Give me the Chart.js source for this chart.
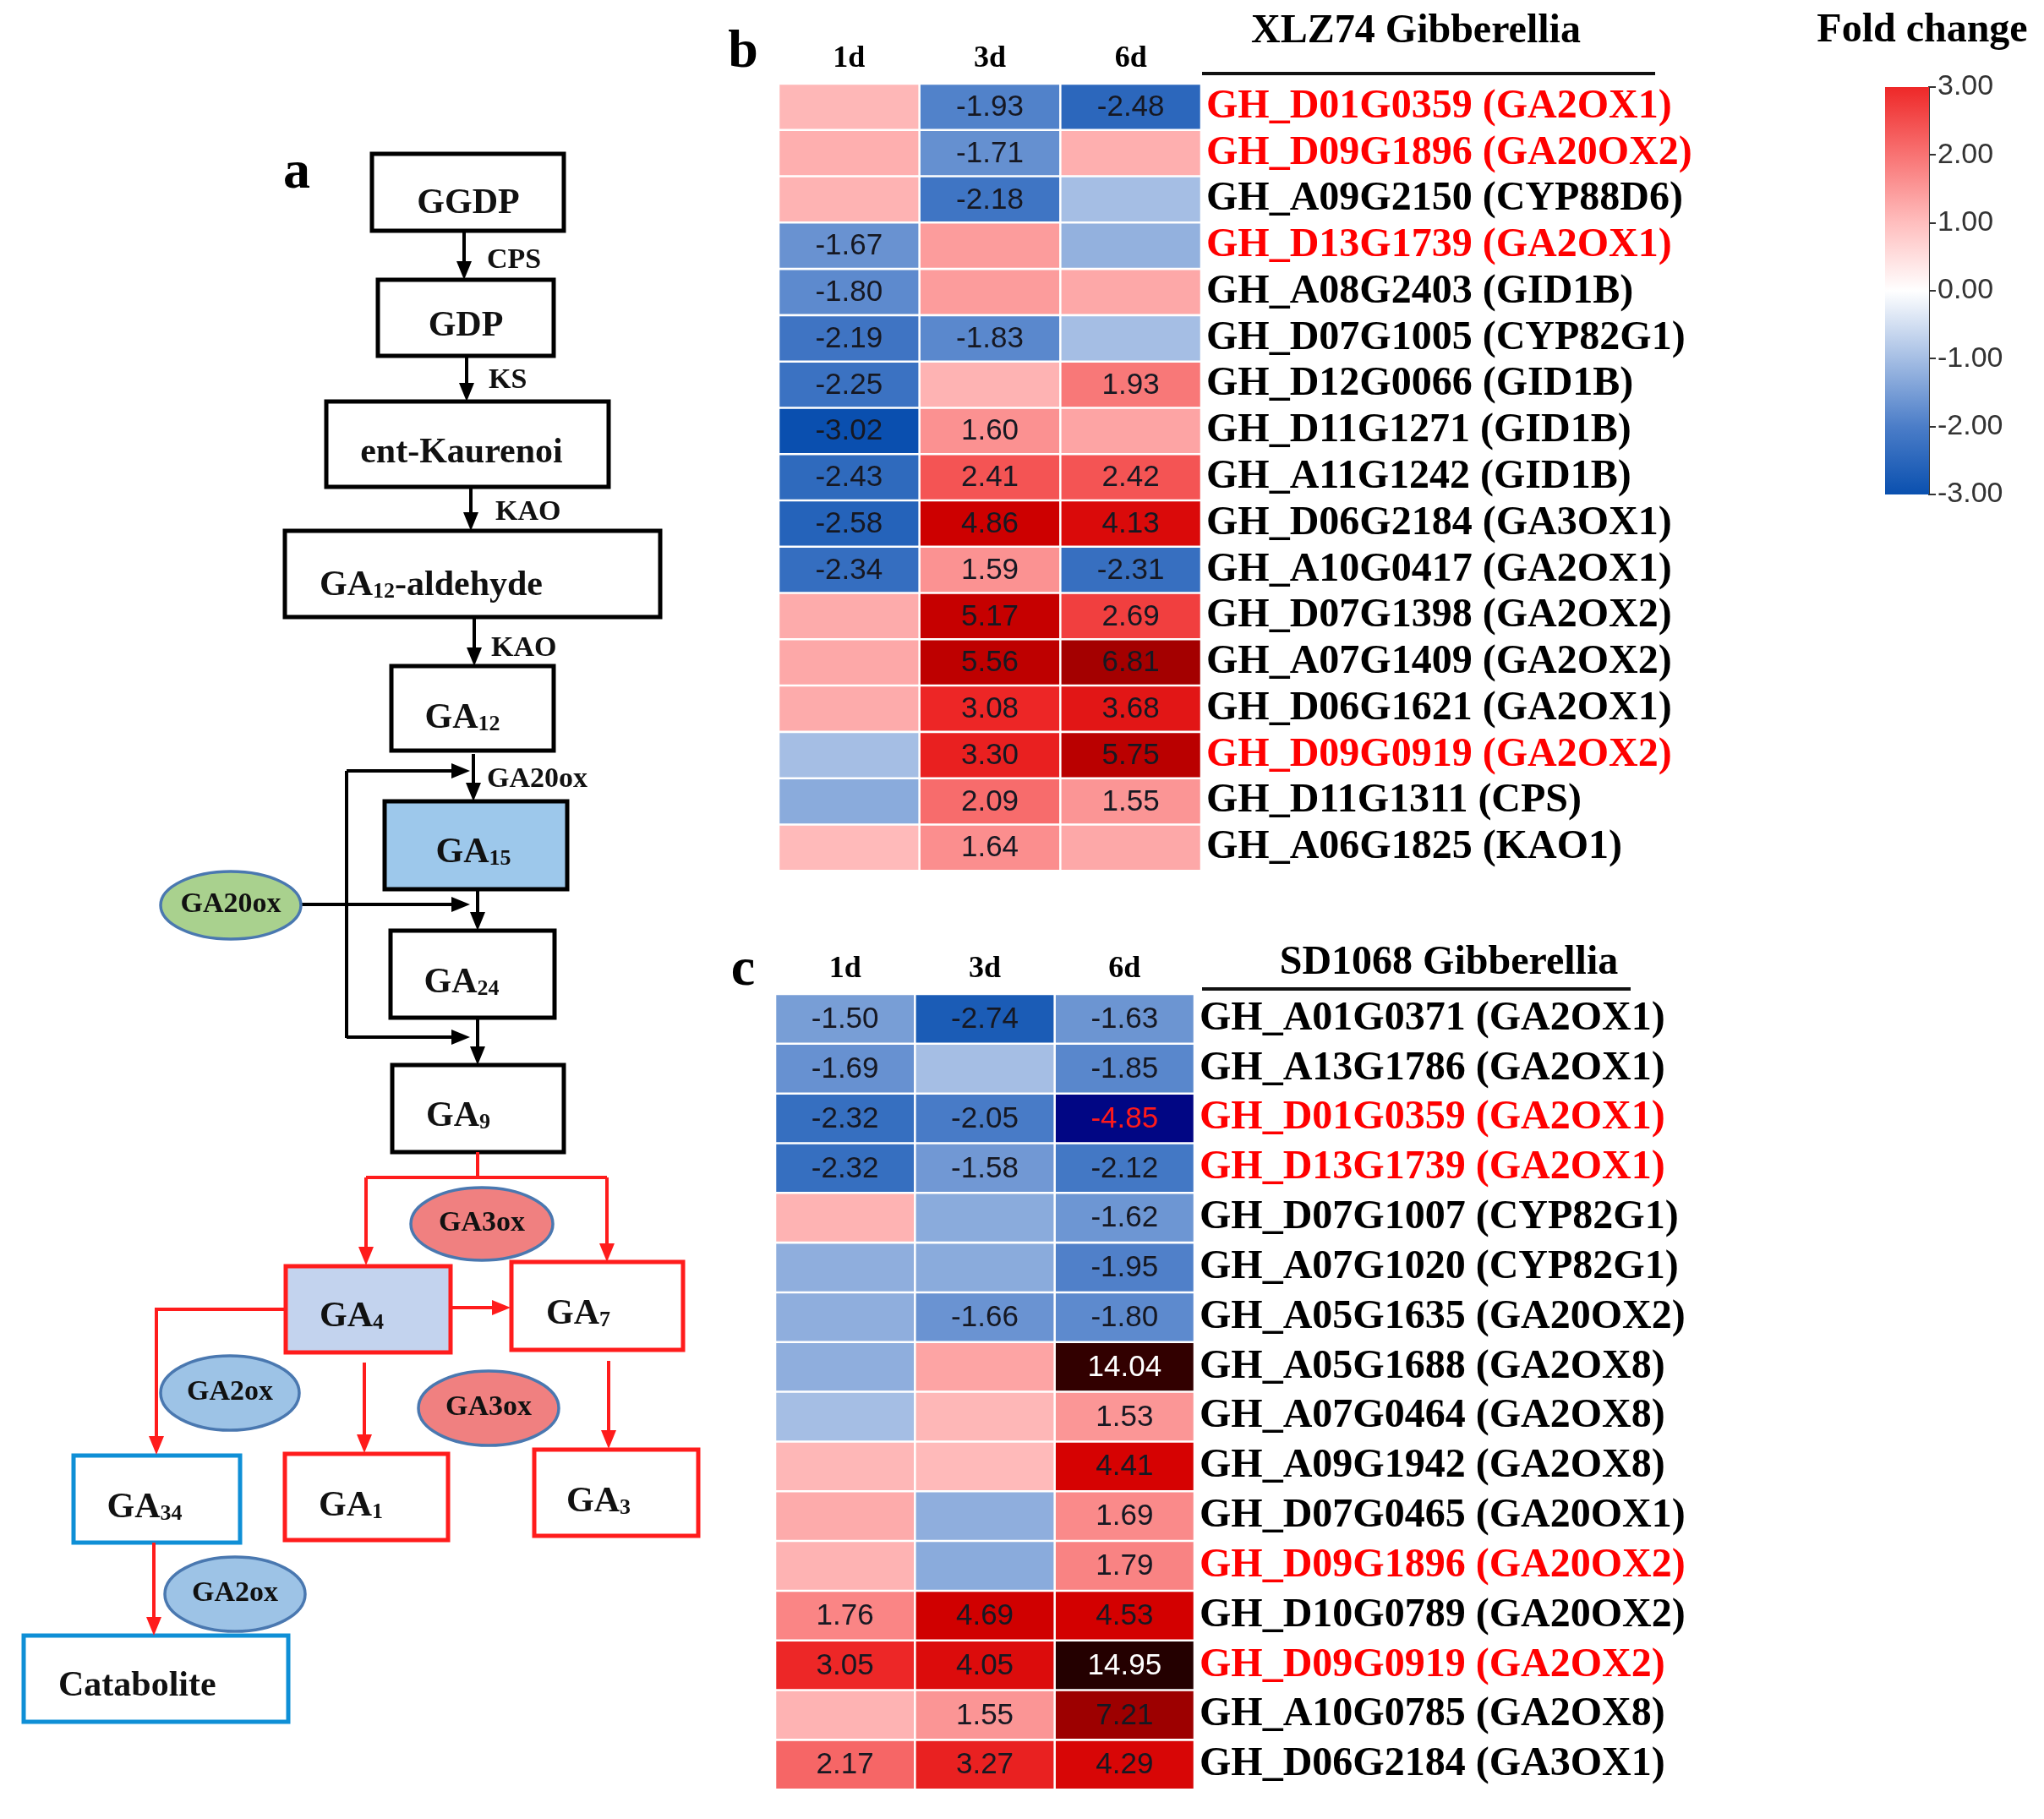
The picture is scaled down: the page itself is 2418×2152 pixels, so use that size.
<!DOCTYPE html>
<html><head><meta charset="utf-8">
<script src="https://cdn.jsdelivr.net/npm/chart.js@4.4.1/dist/chart.umd.min.js"></script>
<style>
html,body{margin:0;padding:0;background:#fff;}
body{width:2418px;height:2152px;position:relative;overflow:hidden;}
canvas{position:absolute;}
</style></head><body>
<canvas id="pa" width="860" height="2152" style="left:0;top:0;width:860px;height:2152px"></canvas>
<canvas id="pb" width="1270" height="1065" style="left:860px;top:0;width:1270px;height:1065px"></canvas>
<canvas id="pc" width="1270" height="1075" style="left:860px;top:1077px;width:1270px;height:1075px"></canvas>
<canvas id="pl" width="288" height="620" style="left:2130px;top:0;width:288px;height:620px"></canvas>
<script>
// ---------------- DATA ----------------
const days = ['1d', '3d', '6d'];

const bGenes = ['GH_D01G0359 (GA2OX1)','GH_D09G1896 (GA20OX2)','GH_A09G2150 (CYP88D6)','GH_D13G1739 (GA2OX1)',
  'GH_A08G2403 (GID1B)','GH_D07G1005 (CYP82G1)','GH_D12G0066 (GID1B)','GH_D11G1271 (GID1B)','GH_A11G1242 (GID1B)',
  'GH_D06G2184 (GA3OX1)','GH_A10G0417 (GA2OX1)','GH_D07G1398 (GA2OX2)','GH_A07G1409 (GA2OX2)','GH_D06G1621 (GA2OX1)',
  'GH_D09G0919 (GA2OX2)','GH_D11G1311 (CPS)','GH_A06G1825 (KAO1)'];
const bDay1 = [1.1, 1.2, 1.15, -1.67, -1.80, -2.19, -2.25, -3.02, -2.43, -2.58, -2.34, 1.25, 1.3, 1.25, -1.0, -1.3, 1.05];
const bDay3 = [-1.93, -1.71, -2.18, 1.45, 1.45, -1.83, 1.15, 1.60, 2.41, 4.86, 1.59, 5.17, 5.56, 3.08, 3.30, 2.09, 1.64];
const bDay6 = [-2.48, 1.2, -1.0, -1.2, 1.3, -1.0, 1.93, 1.35, 2.42, 4.13, -2.31, 2.69, 6.81, 3.68, 5.75, 1.55, 1.3];
const bHighlight = ['GH_D01G0359 (GA2OX1)','GH_D09G1896 (GA20OX2)','GH_D13G1739 (GA2OX1)','GH_D09G0919 (GA2OX2)'];

const cGenes = ['GH_A01G0371 (GA2OX1)','GH_A13G1786 (GA2OX1)','GH_D01G0359 (GA2OX1)','GH_D13G1739 (GA2OX1)',
  'GH_D07G1007 (CYP82G1)','GH_A07G1020 (CYP82G1)','GH_A05G1635 (GA20OX2)','GH_A05G1688 (GA2OX8)','GH_A07G0464 (GA2OX8)',
  'GH_A09G1942 (GA2OX8)','GH_D07G0465 (GA20OX1)','GH_D09G1896 (GA20OX2)','GH_D10G0789 (GA20OX2)','GH_D09G0919 (GA2OX2)',
  'GH_A10G0785 (GA2OX8)','GH_D06G2184 (GA3OX1)'];
const cDay1 = [-1.50, -1.69, -2.32, -2.32, 1.15, -1.25, -1.25, -1.25, -1.0, 1.1, 1.25, 1.15, 1.76, 3.05, 1.15, 2.17];
const cDay3 = [-2.74, -1.0, -2.05, -1.58, -1.3, -1.3, -1.66, 1.35, 1.1, 1.05, -1.25, -1.3, 4.69, 4.05, 1.55, 3.27];
const cDay6 = [-1.63, -1.85, -4.85, -2.12, -1.62, -1.95, -1.80, 14.04, 1.53, 4.41, 1.69, 1.79, 4.53, 14.95, 7.21, 4.29];
const cHighlight = ['GH_D01G0359 (GA2OX1)','GH_D13G1739 (GA2OX1)','GH_D09G1896 (GA20OX2)','GH_D09G0919 (GA2OX2)'];

const legendTicks = [3, 2, 1, 0, -1, -2, -3];

// ---------------- STYLE ----------------
const SERIF = 'Liberation Serif, Times New Roman, serif';
const SANS = 'Liberation Sans, Arial, sans-serif';
const colorStops = [[-5,[0,0,128]],[-3,[10,80,175]],[-2,[75,125,200]],[-1,[165,190,228]],[0,[255,255,255]],
  [1,[255,190,190]],[2,[248,115,115]],[3,[238,40,40]],[4.5,[212,0,0]],[7,[160,0,0]],[15,[35,0,0]]];
function colorFor(v){
  if (v <= colorStops[0][0]) return 'rgb(' + colorStops[0][1].join(',') + ')';
  for (let i = 1; i < colorStops.length; i++){
    const [v1,c1] = colorStops[i];
    if (v <= v1){
      const [v0,c0] = colorStops[i-1];
      const t = (v - v0) / (v1 - v0);
      return 'rgb(' + c0.map((c,k)=>Math.round(c + (c1[k]-c)*t)).join(',') + ')';
    }
  }
  return 'rgb(' + colorStops[colorStops.length-1][1].join(',') + ')';
}

const base = {responsive:false, animation:false, devicePixelRatio:1,
  plugins:{legend:{display:false}, tooltip:{enabled:false}}};

function heatmap(id, genes, cols, highlight, cfg){
  const datasets = cols.map((vals, j) => ({
    label: days[j],
    data: vals.map(() => [j, j + 1]),
    backgroundColor: vals.map(colorFor),
    borderColor: '#ffffff', borderWidth: 1.6, borderSkipped: false,
    barPercentage: 1, categoryPercentage: 1, grouped: false
  }));
  const cellLabels = {
    id: 'cellLabels',
    afterDatasetsDraw(chart){
      const ctx = chart.ctx;
      ctx.save();
      ctx.font = '35px ' + SANS;
      ctx.textAlign = 'center'; ctx.textBaseline = 'middle';
      chart.data.datasets.forEach((ds, j) => {
        chart.getDatasetMeta(j).data.forEach((el, i) => {
          const v = cols[j][i];
          if (Math.abs(v) < 1.5) return;
          const p = el.getProps(['x','y','base'], true);
          ctx.fillStyle = v > 10 ? '#ffffff' : (v < -4 ? '#ff1a1a' : '#161822');
          ctx.fillText(v.toFixed(2), (p.x + p.base) / 2, p.y + 1);
        });
      });
      ctx.restore();
    }
  };
  const titles = {
    id: 'titles',
    afterDraw(chart){
      const ctx = chart.ctx;
      ctx.save();
      ctx.fillStyle = '#000';
      ctx.textBaseline = 'middle';
      ctx.textAlign = 'center';
      ctx.font = 'bold 64px ' + SERIF;
      ctx.fillText(cfg.letter, cfg.letterX, cfg.letterY);
      ctx.font = 'bold 48px ' + SERIF;
      ctx.fillText(cfg.title, cfg.titleX, cfg.titleY);
      ctx.strokeStyle = '#111'; ctx.lineWidth = 4;
      ctx.beginPath(); ctx.moveTo(cfg.ulX0, cfg.ulY); ctx.lineTo(cfg.ulX1, cfg.ulY); ctx.stroke();
      ctx.restore();
    }
  };
  return new Chart(document.getElementById(id), {
    type: 'bar',
    data: {labels: genes, datasets},
    options: Object.assign({}, base, {
      indexAxis: 'y',
      layout: {padding: {left: cfg.padLeft, right: 0, top: 0, bottom: cfg.padBottom}},
      scales: {
        x: {type: 'linear', min: 0, max: 3, display: false},
        xTop: {type: 'category', labels: days, position: 'top', offset: true,
          grid: {display: false, drawTicks: false}, border: {display: false},
          ticks: {font: {family: SERIF, weight: 'bold', size: 36}, color: '#000', padding: 8},
          afterFit: s => { s.height = 99; }},
        y: {type: 'category', position: 'right',
          grid: {display: false, drawTicks: false}, border: {display: false},
          ticks: {autoSkip: false, font: {family: SERIF, weight: 'bold', size: 48}, padding: 6,
            color: c => highlight.includes(genes[c.index]) ? '#ff0000' : '#000'},
          afterFit: s => { s.width = cfg.axisWidth; }}
      }
    }),
    plugins: [cellLabels, titles]
  });
}

heatmap('pb', bGenes, [bDay1, bDay3, bDay6], bHighlight,
  {padLeft: 61, padBottom: 19, axisWidth: 709, letter: 'b', letterX: 19, letterY: 62,
   title: 'XLZ74 Gibberellia', titleX: 815, titleY: 38, ulX0: 562, ulX1: 1098, ulY: 87});
heatmap('pc', cGenes, [cDay1, cDay3, cDay6], cHighlight,
  {padLeft: 57, padBottom: 27, axisWidth: 717, letter: 'c', letterX: 19, letterY: 71,
   title: 'SD1068 Gibberellia', titleX: 854, titleY: 63, ulX0: 562, ulX1: 1069, ulY: 93});

// ---------------- COLOR LEGEND ----------------
new Chart(document.getElementById('pl'), {
  type: 'bar',
  data: {labels: ['Fold change'], datasets: [{
    data: [[legendTicks[legendTicks.length-1], legendTicks[0]]],
    backgroundColor: c => {
      const ca = c.chart.chartArea;
      if (!ca) return '#ffffff';
      const g = c.chart.ctx.createLinearGradient(0, ca.top, 0, ca.bottom);
      const hi = legendTicks[0], lo = legendTicks[legendTicks.length-1];
      legendTicks.forEach(v => g.addColorStop((hi - v) / (hi - lo), colorFor(v)));
      return g;
    },
    borderWidth: 0, barPercentage: 1, categoryPercentage: 1
  }]},
  options: Object.assign({}, base, {
    layout: {padding: {left: 100, right: 0, top: 103, bottom: 35}},
    scales: {
      x: {display: false},
      y: {min: -3, max: 3, position: 'right',
        ticks: {stepSize: 1, callback: v => Number(v).toFixed(2), font: {family: SANS, size: 34}, color: '#333', padding: 2},
        grid: {drawOnChartArea: false, drawTicks: true, tickLength: 8, color: '#333', lineWidth: 2},
        border: {display: true, color: '#333', width: 2},
        afterFit: s => { s.width = 136; }}
    }
  }),
  plugins: [{id: 'ltitle', afterDraw(chart){
    const ctx = chart.ctx; ctx.save();
    ctx.font = 'bold 48px ' + SERIF; ctx.fillStyle = '#000';
    ctx.textAlign = 'center'; ctx.textBaseline = 'middle';
    ctx.fillText('Fold change', 144, 37); ctx.restore();
  }}]
});

// ---------------- PATHWAY DIAGRAM (panel a) ----------------
const RED = '#ff1c1c', BLUE = '#0f8fd6', BLACK = '#000';
const boxes = [
  {p:[['GGDP']], x:440, y:182, w:227, h:91, tx:554, ty:238, s:BLACK},
  {p:[['GDP']], x:447, y:331, w:208, h:90, tx:551, ty:383, s:BLACK},
  {p:[['ent-Kaurenoi']], x:386, y:475, w:334, h:101, tx:546, ty:533, s:BLACK},
  {p:[['GA'],['12',1],['-aldehyde']], x:337, y:628, w:444, h:102, lx:378, ty:690, s:BLACK},
  {p:[['GA'],['12',1]], x:463, y:788, w:192, h:100, tx:547, ty:847, s:BLACK},
  {p:[['GA'],['15',1]], x:455, y:948, w:216, h:104, tx:560, ty:1006, s:BLACK, f:'#9dc8eb'},
  {p:[['GA'],['24',1]], x:462, y:1101, w:194, h:103, tx:546, ty:1160, s:BLACK},
  {p:[['GA'],['9',1]], x:464, y:1260, w:203, h:103, tx:542, ty:1318, s:BLACK},
  {p:[['GA'],['4',1]], x:338, y:1498, w:195, h:102, tx:416, ty:1555, s:RED, f:'#c3d3ee'},
  {p:[['GA'],['7',1]], x:605, y:1493, w:203, h:104, tx:684, ty:1552, s:RED},
  {p:[['GA'],['34',1]], x:87, y:1722, w:197, h:103, tx:171, ty:1781, s:BLUE},
  {p:[['GA'],['1',1]], x:337, y:1720, w:193, h:102, tx:415, ty:1779, s:RED},
  {p:[['GA'],['3',1]], x:632, y:1715, w:194, h:102, tx:708, ty:1774, s:RED},
  {p:[['Catabolite']], x:28, y:1935, w:313, h:102, lx:69, ty:1992, s:BLUE}
];
const ellipses = [
  {t:'GA20ox', cx:273, cy:1071, rx:83, ry:40, f:'#a9d18e'},
  {t:'GA3ox', cx:570, cy:1448, rx:84, ry:43, f:'#f08080'},
  {t:'GA2ox', cx:272, cy:1648, rx:82, ry:44, f:'#9dc3e6'},
  {t:'GA3ox', cx:578, cy:1666, rx:83, ry:44, f:'#f08080'},
  {t:'GA2ox', cx:278, cy:1886, rx:83, ry:44, f:'#9dc3e6'}
];
const links = [
  {c:BLACK, a:1, pts:[[549,273],[549,331]]},
  {c:BLACK, a:1, pts:[[552,421],[552,475]]},
  {c:BLACK, a:1, pts:[[557,576],[557,628]]},
  {c:BLACK, a:1, pts:[[561,730],[561,788]]},
  {c:BLACK, a:1, pts:[[560,892],[560,948]]},
  {c:BLACK, a:1, pts:[[410,912],[556,912]]},
  {c:BLACK, a:0, pts:[[410,912],[410,1228]]},
  {c:BLACK, a:1, pts:[[356,1070],[556,1070]]},
  {c:BLACK, a:1, pts:[[565,1052],[565,1101]]},
  {c:BLACK, a:1, pts:[[410,1227],[556,1227]]},
  {c:BLACK, a:1, pts:[[565,1206],[565,1260]]},
  {c:RED, a:0, pts:[[565,1363],[565,1393]]},
  {c:RED, a:0, pts:[[433,1393],[718,1393]]},
  {c:RED, a:1, pts:[[433,1393],[433,1497]]},
  {c:RED, a:1, pts:[[718,1393],[718,1493]]},
  {c:RED, a:1, pts:[[533,1547],[604,1547]]},
  {c:RED, a:1, pts:[[338,1549],[185,1549],[185,1721]]},
  {c:RED, a:1, pts:[[431,1612],[431,1719]]},
  {c:RED, a:1, pts:[[720,1610],[720,1714]]},
  {c:RED, a:1, pts:[[182,1825],[182,1935]]}
];
const enzymes = [
  {t:'CPS', x:576, y:308}, {t:'KS', x:578, y:450}, {t:'KAO', x:586, y:606},
  {t:'KAO', x:581, y:767}, {t:'GA20ox', x:576, y:922}
];

const diagram = {
  id: 'diagram',
  afterDraw(chart){
    const ctx = chart.ctx;
    const X = v => chart.scales.x.getPixelForValue(v);
    const Y = v => chart.scales.y.getPixelForValue(v);
    ctx.save();
    ctx.fillStyle = '#000'; ctx.font = 'bold 64px ' + SERIF;
    ctx.textAlign = 'center'; ctx.textBaseline = 'middle';
    ctx.fillText('a', X(351), Y(205));
    boxes.forEach(b => {
      const x = X(b.x), y = Y(b.y), w = X(b.x + b.w) - x, h = Y(b.y + b.h) - y;
      if (b.f){ ctx.fillStyle = b.f; ctx.fillRect(x, y, w, h); }
      ctx.strokeStyle = b.s; ctx.lineWidth = 5; ctx.strokeRect(x, y, w, h);
    });
    links.forEach(l => {
      ctx.strokeStyle = l.c; ctx.fillStyle = l.c; ctx.lineWidth = 4;
      const pts = l.pts.map(p => [X(p[0]), Y(p[1])]);
      const n = pts.length;
      const [x1, y1] = pts[n-1], [x0, y0] = pts[n-2];
      const len = Math.hypot(x1 - x0, y1 - y0), ux = (x1 - x0) / len, uy = (y1 - y0) / len;
      const HL = 22, HW = 9;
      ctx.beginPath(); ctx.moveTo(pts[0][0], pts[0][1]);
      for (let i = 1; i < n - 1; i++) ctx.lineTo(pts[i][0], pts[i][1]);
      if (l.a) ctx.lineTo(x1 - ux * HL * 0.7, y1 - uy * HL * 0.7); else ctx.lineTo(x1, y1);
      ctx.stroke();
      if (l.a){
        ctx.beginPath();
        ctx.moveTo(x1, y1);
        ctx.lineTo(x1 - ux * HL - uy * HW, y1 - uy * HL + ux * HW);
        ctx.lineTo(x1 - ux * HL + uy * HW, y1 - uy * HL - ux * HW);
        ctx.closePath(); ctx.fill();
      }
    });
    ellipses.forEach(e => {
      ctx.beginPath();
      ctx.ellipse(X(e.cx), Y(e.cy), e.rx, e.ry, 0, 0, Math.PI * 2);
      ctx.fillStyle = e.f; ctx.fill();
      ctx.strokeStyle = '#4a78b0'; ctx.lineWidth = 3.5; ctx.stroke();
      ctx.fillStyle = '#111'; ctx.font = 'bold 34px ' + SERIF;
      ctx.textAlign = 'center'; ctx.textBaseline = 'middle';
      ctx.fillText(e.t, X(e.cx), Y(e.cy) - 1);
    });
    ctx.textAlign = 'left'; ctx.textBaseline = 'alphabetic'; ctx.fillStyle = '#111';
    const FS = 42, SS = 26;
    boxes.forEach(b => {
      let total = 0;
      b.p.forEach(part => { ctx.font = 'bold ' + (part[1] ? SS : FS) + 'px ' + SERIF; total += ctx.measureText(part[0]).width; });
      let x = b.lx !== undefined ? X(b.lx) : X(b.tx) - total / 2;
      const baseY = Y(b.ty) + FS * 0.33;
      b.p.forEach(part => {
        ctx.font = 'bold ' + (part[1] ? SS : FS) + 'px ' + SERIF;
        ctx.fillText(part[0], x, baseY + (part[1] ? 3 : 0));
        x += ctx.measureText(part[0]).width;
      });
    });
    ctx.font = 'bold 34px ' + SERIF; ctx.textBaseline = 'middle';
    enzymes.forEach(e => ctx.fillText(e.t, X(e.x), Y(e.y)));
    ctx.restore();
  }
};

new Chart(document.getElementById('pa'), {
  type: 'scatter',
  data: {datasets: [{data: []}]},
  options: Object.assign({}, base, {
    layout: {padding: 0},
    scales: {
      x: {type: 'linear', min: 0, max: 860, display: false},
      y: {type: 'linear', min: 0, max: 2152, reverse: true, display: false}
    }
  }),
  plugins: [diagram]
});
</script>
</body></html>
